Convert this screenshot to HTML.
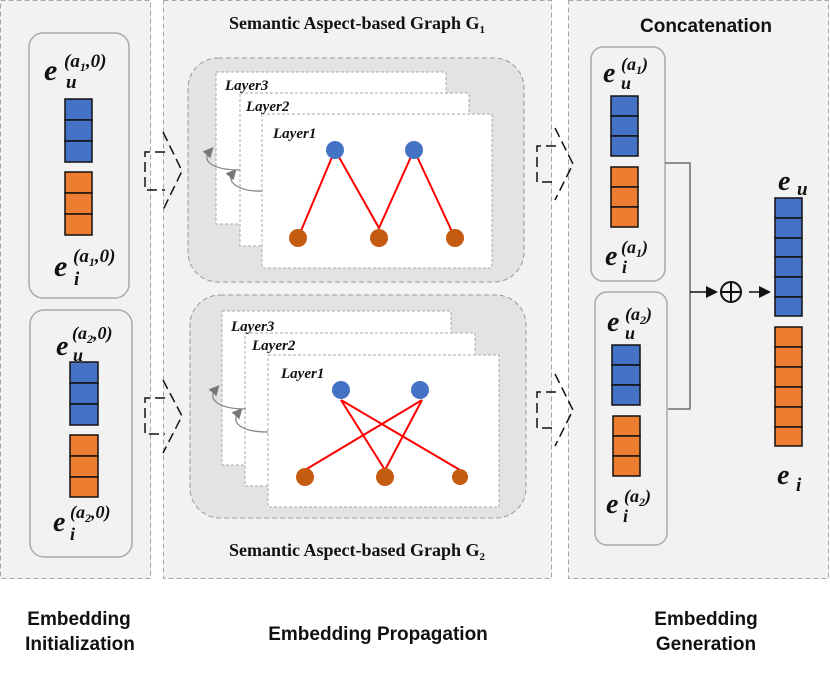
<!DOCTYPE html>
<html><head><meta charset="utf-8"><style>
body{margin:0;background:#fff}
svg{display:block}
.m{font-family:"Liberation Serif",serif;font-weight:bold;font-style:italic;fill:#111}
.s{font-family:"Liberation Sans",sans-serif;font-weight:bold;fill:#111}
.t{font-family:"Liberation Serif",serif;font-weight:bold;fill:#111}
.ly{font-family:"Liberation Serif",serif;font-weight:bold;font-style:italic;font-size:15px;fill:#111}
</style></head><body>
<svg width="830" height="673" viewBox="0 0 830 673" xmlns="http://www.w3.org/2000/svg">
<defs>
<marker id="ga" markerWidth="8" markerHeight="8" refX="4" refY="4" orient="auto"><path d="M0,0L8,4L0,8z" fill="#777"/></marker>
<marker id="ka" markerWidth="8" markerHeight="8" refX="6" refY="4" orient="auto"><path d="M0,0L8,4L0,8z" fill="#111"/></marker>
</defs>
<!-- panels -->
<rect x="0.5" y="0.5" width="150" height="578" fill="#f2f2f2" stroke="#a6a6a6" stroke-dasharray="5,3"/>
<rect x="163.5" y="0.5" width="388" height="578" fill="#f2f2f2" stroke="#a6a6a6" stroke-dasharray="5,3"/>
<rect x="568.5" y="0.5" width="260" height="578" fill="#f2f2f2" stroke="#a6a6a6" stroke-dasharray="5,3"/>

<!-- left boxes -->
<rect x="29" y="33" width="100" height="265" rx="14" fill="#f2f2f2" stroke="#aaa" stroke-width="1.5"/>
<g stroke="#111" stroke-width="1.5">
<rect x="65" y="99" width="27" height="21" fill="#4472c4"/><rect x="65" y="120" width="27" height="21" fill="#4472c4"/><rect x="65" y="141" width="27" height="21" fill="#4472c4"/>
<rect x="65" y="172" width="27" height="21" fill="#ed7d31"/><rect x="65" y="193" width="27" height="21" fill="#ed7d31"/><rect x="65" y="214" width="27" height="21" fill="#ed7d31"/>
</g>
<text class="m" x="44" y="80" font-size="30">e</text><text class="m" x="66" y="88" font-size="19">u</text><text class="m" x="64" y="67" font-size="19">(a<tspan font-size="12" dy="4">1</tspan><tspan dy="-4">,0)</tspan></text>
<text class="m" x="54" y="276" font-size="30">e</text><text class="m" x="74" y="285" font-size="19">i</text><text class="m" x="73" y="262" font-size="19">(a<tspan font-size="12" dy="4">1</tspan><tspan dy="-4">,0)</tspan></text>

<rect x="30" y="310" width="102" height="247" rx="14" fill="#f2f2f2" stroke="#aaa" stroke-width="1.5"/>
<g stroke="#111" stroke-width="1.5">
<rect x="70" y="362" width="28" height="21" fill="#4472c4"/><rect x="70" y="383" width="28" height="21" fill="#4472c4"/><rect x="70" y="404" width="28" height="21" fill="#4472c4"/>
<rect x="70" y="435" width="28" height="21" fill="#ed7d31"/><rect x="70" y="456" width="28" height="21" fill="#ed7d31"/><rect x="70" y="477" width="28" height="20" fill="#ed7d31"/>
</g>
<text class="m" x="56" y="355" font-size="28">e</text><text class="m" x="73" y="361" font-size="18">u</text><text class="m" x="72" y="339" font-size="18">(a<tspan font-size="12" dy="4">2</tspan><tspan dy="-4">,0)</tspan></text>
<text class="m" x="53" y="531" font-size="28">e</text><text class="m" x="70" y="540" font-size="18">i</text><text class="m" x="70" y="518" font-size="18">(a<tspan font-size="12" dy="4">2</tspan><tspan dy="-4">,0)</tspan></text>

<!-- dashed arrows -->
<g fill="none" stroke="#111" stroke-width="1.5" stroke-dasharray="10,5">
<path d="M165,152H145V190H165"/><path d="M163,132L182,171L163,210"/>
<path d="M165,398H145V434H165"/><path d="M163,380L182,416L163,453"/>
<path d="M556,146H537V182H556"/><path d="M555,128L573,164L555,200"/>
<path d="M556,392H537V428H556"/><path d="M555,374L573,410L555,446"/>
</g>

<!-- middle titles -->
<text class="t" x="357" y="29" font-size="18" text-anchor="middle">Semantic Aspect-based Graph G<tspan font-size="11" dy="4">1</tspan></text>
<text class="t" x="357" y="556" font-size="18" text-anchor="middle">Semantic Aspect-based Graph G<tspan font-size="11" dy="4">2</tspan></text>

<!-- top graph -->
<rect x="188" y="58" width="336" height="224" rx="30" fill="#e3e3e3" stroke="#999" stroke-dasharray="5,3"/>
<g fill="#fff" stroke="#aaa" stroke-dasharray="3,2">
<rect x="216" y="72" width="230" height="152"/>
<rect x="240" y="93" width="229" height="153"/>
<rect x="262" y="114" width="230" height="154"/>
</g>
<text class="ly" x="225" y="90">Layer3</text>
<text class="ly" x="246" y="111">Layer2</text>
<text class="ly" x="273" y="138">Layer1</text>
<path d="M262,191C240,192 225,182 233,173" fill="none" stroke="#888" stroke-width="1.3" marker-end="url(#ga)"/>
<path d="M240,170C215,170 200,162 210,151" fill="none" stroke="#888" stroke-width="1.3" marker-end="url(#ga)"/>
<path d="M298,238L335,150L379,228L414,150L455,238" fill="none" stroke="#f00" stroke-width="2"/>
<g fill="#4472c4"><circle cx="335" cy="150" r="9"/><circle cx="414" cy="150" r="9"/></g>
<g fill="#c55a11"><circle cx="298" cy="238" r="9"/><circle cx="379" cy="238" r="9"/><circle cx="455" cy="238" r="9"/></g>

<!-- bottom graph -->
<rect x="190" y="295" width="336" height="223" rx="30" fill="#e3e3e3" stroke="#999" stroke-dasharray="5,3"/>
<g fill="#fff" stroke="#aaa" stroke-dasharray="3,2">
<rect x="222" y="311" width="229" height="154"/>
<rect x="245" y="333" width="230" height="153"/>
<rect x="268" y="355" width="231" height="152"/>
</g>
<text class="ly" x="231" y="331">Layer3</text>
<text class="ly" x="252" y="350">Layer2</text>
<text class="ly" x="281" y="378">Layer1</text>
<path d="M268,432C240,432 230,422 239,412" fill="none" stroke="#888" stroke-width="1.3" marker-end="url(#ga)"/>
<path d="M246,409C220,409 206,400 216,389" fill="none" stroke="#888" stroke-width="1.3" marker-end="url(#ga)"/>
<path d="M341,400L385,470M341,400L460,470M422,400L305,470M422,400L385,470" fill="none" stroke="#f00" stroke-width="2"/>
<g fill="#4472c4"><circle cx="341" cy="390" r="9"/><circle cx="420" cy="390" r="9"/></g>
<g fill="#c55a11"><circle cx="305" cy="477" r="9"/><circle cx="385" cy="477" r="9"/><circle cx="460" cy="477" r="8"/></g>

<!-- right panel -->
<text class="s" x="640" y="32" font-size="19">Concatenation</text>
<rect x="591" y="47" width="74" height="234" rx="12" fill="#f2f2f2" stroke="#aaa" stroke-width="1.5"/>
<g stroke="#111" stroke-width="1.5">
<rect x="611" y="96" width="27" height="20" fill="#4472c4"/><rect x="611" y="116" width="27" height="20" fill="#4472c4"/><rect x="611" y="136" width="27" height="20" fill="#4472c4"/>
<rect x="611" y="167" width="27" height="20" fill="#ed7d31"/><rect x="611" y="187" width="27" height="20" fill="#ed7d31"/><rect x="611" y="207" width="27" height="20" fill="#ed7d31"/>
</g>
<text class="m" x="603" y="82" font-size="28">e</text><text class="m" x="621" y="89" font-size="18">u</text><text class="m" x="621" y="70" font-size="18">(a<tspan font-size="12" dy="4">1</tspan><tspan dy="-4">)</tspan></text>
<text class="m" x="605" y="265" font-size="28">e</text><text class="m" x="622" y="273" font-size="18">i</text><text class="m" x="621" y="253" font-size="18">(a<tspan font-size="12" dy="4">1</tspan><tspan dy="-4">)</tspan></text>

<rect x="595" y="292" width="72" height="253" rx="12" fill="#f2f2f2" stroke="#aaa" stroke-width="1.5"/>
<g stroke="#111" stroke-width="1.5">
<rect x="612" y="345" width="28" height="20" fill="#4472c4"/><rect x="612" y="365" width="28" height="20" fill="#4472c4"/><rect x="612" y="385" width="28" height="20" fill="#4472c4"/>
<rect x="613" y="416" width="27" height="20" fill="#ed7d31"/><rect x="613" y="436" width="27" height="20" fill="#ed7d31"/><rect x="613" y="456" width="27" height="20" fill="#ed7d31"/>
</g>
<text class="m" x="607" y="331" font-size="28">e</text><text class="m" x="625" y="339" font-size="18">u</text><text class="m" x="625" y="320" font-size="18">(a<tspan font-size="12" dy="4">2</tspan><tspan dy="-4">)</tspan></text>
<text class="m" x="606" y="513" font-size="28">e</text><text class="m" x="623" y="522" font-size="18">i</text><text class="m" x="624" y="502" font-size="18">(a<tspan font-size="12" dy="4">2</tspan><tspan dy="-4">)</tspan></text>

<path d="M665,163H690V409H668" fill="none" stroke="#555" stroke-width="1.3"/>
<path d="M690,292H715" stroke="#111" stroke-width="1.5" marker-end="url(#ka)"/>
<circle cx="731" cy="292" r="10" fill="none" stroke="#111" stroke-width="2"/>
<path d="M731,282V302M721,292H741" stroke="#111" stroke-width="2"/>
<path d="M749,292H768" stroke="#111" stroke-width="1.5" marker-end="url(#ka)"/>

<g stroke="#111" stroke-width="1.5">
<rect x="775" y="198" width="27" height="20" fill="#4472c4"/><rect x="775" y="218" width="27" height="20" fill="#4472c4"/><rect x="775" y="238" width="27" height="19" fill="#4472c4"/><rect x="775" y="257" width="27" height="20" fill="#4472c4"/><rect x="775" y="277" width="27" height="20" fill="#4472c4"/><rect x="775" y="297" width="27" height="19" fill="#4472c4"/>
<rect x="775" y="327" width="27" height="20" fill="#ed7d31"/><rect x="775" y="347" width="27" height="20" fill="#ed7d31"/><rect x="775" y="367" width="27" height="20" fill="#ed7d31"/><rect x="775" y="387" width="27" height="20" fill="#ed7d31"/><rect x="775" y="407" width="27" height="20" fill="#ed7d31"/><rect x="775" y="427" width="27" height="19" fill="#ed7d31"/>
</g>
<text class="m" x="778" y="190" font-size="28">e</text><text class="m" x="797" y="195" font-size="19">u</text>
<text class="m" x="777" y="484" font-size="28">e</text><text class="m" x="796" y="491" font-size="19">i</text>

<!-- bottom labels -->
<text class="s" x="79" y="625" font-size="19" text-anchor="middle">Embedding</text>
<text class="s" x="80" y="650" font-size="19" text-anchor="middle">Initialization</text>
<text class="s" x="378" y="640" font-size="19" text-anchor="middle">Embedding Propagation</text>
<text class="s" x="706" y="625" font-size="19" text-anchor="middle">Embedding</text>
<text class="s" x="706" y="650" font-size="19" text-anchor="middle">Generation</text>
</svg>
</body></html>
